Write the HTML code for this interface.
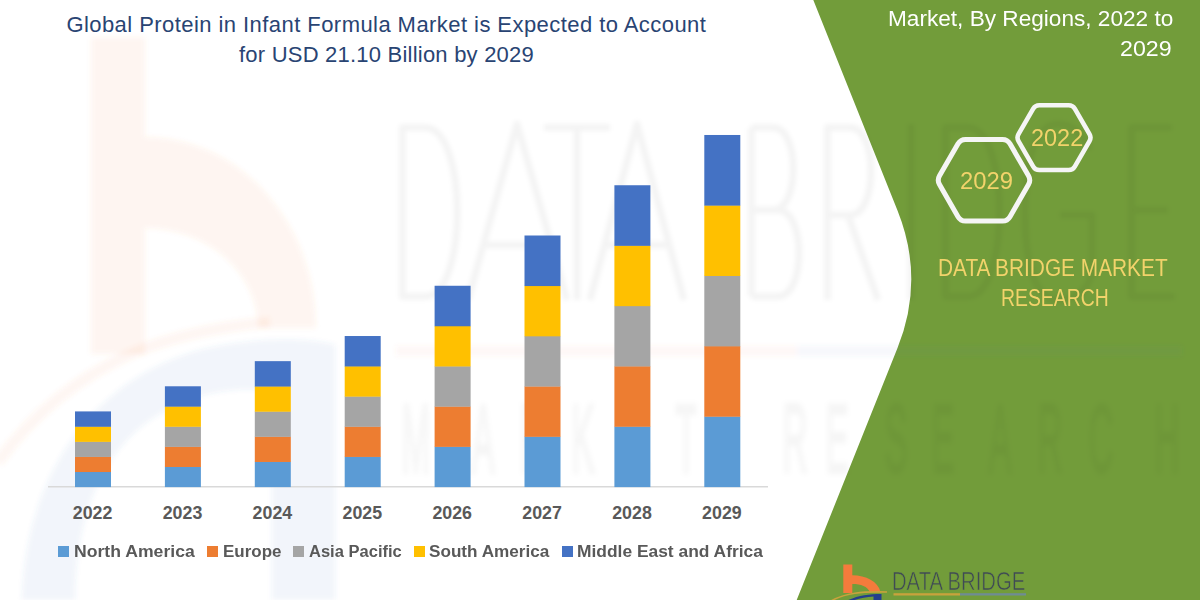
<!DOCTYPE html>
<html><head><meta charset="utf-8">
<style>
html,body{margin:0;padding:0;}
body{width:1200px;height:600px;position:relative;overflow:hidden;background:#fff;font-family:"Liberation Sans",sans-serif;}
svg{position:absolute;left:0;top:0;}
.t{position:absolute;white-space:nowrap;transform-origin:0 0;}
.ti{position:absolute;white-space:nowrap;color:#294473;font-size:22px;line-height:22px;}
.yr{position:absolute;top:504.5px;font-weight:bold;color:#595959;font-size:17.8px;line-height:17.8px;width:80px;text-align:center;}
.sq{position:absolute;top:546px;width:11px;height:11px;}
.lg{position:absolute;top:542.64px;font-weight:bold;color:#595959;font-size:17.4px;line-height:17.4px;white-space:nowrap;transform-origin:0 0;}
.rt{position:absolute;color:#fff;font-size:22.5px;line-height:22.5px;white-space:nowrap;transform-origin:0 0;}
.yl{position:absolute;color:#F2D36B;font-size:23px;line-height:23px;white-space:nowrap;transform-origin:0 0;}
#logo{position:absolute;left:891.5px;top:568.75px;color:#3F4A55;font-size:25px;line-height:25px;transform:scaleX(0.81);-webkit-text-stroke:0.6px #729C3A;transform-origin:0 0;white-space:nowrap;}
</style></head><body>
<svg width="1200" height="600" viewBox="0 0 1200 600">
<path d="M813.3,0 L897.6,210.75 Q925,279.25 897.6,347.75 L796.7,600 L1200,600 L1200,0 Z" fill="#729C3A"/>

<defs><filter id="bl" x="-10%" y="-10%" width="120%" height="120%"><feGaussianBlur stdDeviation="2.5"/></filter><filter id="bl2" x="-10%" y="-10%" width="120%" height="120%"><feGaussianBlur stdDeviation="2"/></filter></defs>
<g filter="url(#bl)">
<path d="M91,37.5 H145 V354 H91 Z M145,137 A171,191 0 0 1 316,328 L258,328 A113,100 0 0 0 145,228 Z" fill="#F47B3C" fill-opacity="0.075"/>
<path d="M-2,462 C30,418 75,378 135,352 C175,336 225,326 270,322" fill="none" stroke="#F47B3C" stroke-opacity="0.065" stroke-width="11"/>
<path d="M22,600 C25,480 90,380 200,350 C260,336 310,338 335,345 L335,600 L272,600 L272,392 C240,385 190,392 150,420 C100,455 75,520 75,600 Z" fill="#4472C4" fill-opacity="0.07"/>
</g><g fill="none" stroke="#000" stroke-opacity="0.045" stroke-width="7" stroke-linejoin="round" filter="url(#bl2)">
<path d="M402.5,127.5 V296.5 H425 C468,296.5 468,127.5 425,127.5 Z"/>
<path d="M468,300 L517,124 L567,300 M484,245 L551,245"/>
<path d="M544,127.5 H610 M577,127.5 V300"/>
<path d="M590,300 L637,124 L684,300 M605,245 L669,245"/>
<path d="M751.5,127.5 V296.5 M751.5,127.5 H773 C800,127.5 800,210 773,210 H751.5 M751.5,210 H778 C806,210 806,296.5 778,296.5 H751.5"/>
<path d="M827.5,300 V127.5 H850 C878,127.5 878,215 850,215 H827.5 M848,215 L878,300"/>
<path d="M911,124 V300"/>
<path d="M945.5,127.5 V296.5 H968 C1010,296.5 1010,127.5 968,127.5 Z"/>
<path d="M1090,150 C1080,130 1070,124 1058,124 C1035,124 1025,160 1025,212 C1025,264 1035,300 1058,300 C1075,300 1090,290 1092,270 V215 H1060"/>
<path d="M1172,127.5 H1131.5 V296.5 H1175 M1131.5,210 H1168"/>
</g>
<g filter="url(#bl)"><rect x="396" y="346" width="401" height="10" fill="#F47B3C" fill-opacity="0.05"/>
<rect x="797" y="346" width="385" height="10" fill="#4472C4" fill-opacity="0.05"/>
<text transform="scale(0.36,1)" y="472" font-family="Liberation Sans" font-size="96" fill="#000" fill-opacity="0.024" stroke="#000" stroke-opacity="0.024" stroke-width="6" x="1115.6 1309.7 1443.1 1587.4 1737.4 1876.2 2173.7 2293.0 2456.9 2587.4 2745.8 2882.0 3023.7 3207.0">MARKETRESEARCH</text>
</g>
<rect x="48" y="486" width="720" height="1.5" fill="#D9D9D9"/>
<rect x="75.0" y="471.72" width="36" height="15.38" fill="#5B9BD5"/>
<rect x="75.0" y="456.64" width="36" height="15.38" fill="#ED7D31"/>
<rect x="75.0" y="441.57" width="36" height="15.38" fill="#A5A5A5"/>
<rect x="75.0" y="426.49" width="36" height="15.38" fill="#FFC000"/>
<rect x="75.0" y="411.41" width="36" height="15.38" fill="#4472C4"/>
<rect x="164.9" y="466.70" width="36" height="20.40" fill="#5B9BD5"/>
<rect x="164.9" y="446.59" width="36" height="20.40" fill="#ED7D31"/>
<rect x="164.9" y="426.49" width="36" height="20.40" fill="#A5A5A5"/>
<rect x="164.9" y="406.38" width="36" height="20.40" fill="#FFC000"/>
<rect x="164.9" y="386.28" width="36" height="20.40" fill="#4472C4"/>
<rect x="254.8" y="461.67" width="36" height="25.43" fill="#5B9BD5"/>
<rect x="254.8" y="436.54" width="36" height="25.43" fill="#ED7D31"/>
<rect x="254.8" y="411.41" width="36" height="25.43" fill="#A5A5A5"/>
<rect x="254.8" y="386.28" width="36" height="25.43" fill="#FFC000"/>
<rect x="254.8" y="361.15" width="36" height="25.43" fill="#4472C4"/>
<rect x="344.70000000000005" y="456.64" width="36" height="30.46" fill="#5B9BD5"/>
<rect x="344.70000000000005" y="426.49" width="36" height="30.46" fill="#ED7D31"/>
<rect x="344.70000000000005" y="396.33" width="36" height="30.46" fill="#A5A5A5"/>
<rect x="344.70000000000005" y="366.18" width="36" height="30.46" fill="#FFC000"/>
<rect x="344.70000000000005" y="336.02" width="36" height="30.46" fill="#4472C4"/>
<rect x="434.6" y="446.59" width="36" height="40.51" fill="#5B9BD5"/>
<rect x="434.6" y="406.38" width="36" height="40.51" fill="#ED7D31"/>
<rect x="434.6" y="366.18" width="36" height="40.51" fill="#A5A5A5"/>
<rect x="434.6" y="325.97" width="36" height="40.51" fill="#FFC000"/>
<rect x="434.6" y="285.76" width="36" height="40.51" fill="#4472C4"/>
<rect x="524.5" y="436.54" width="36" height="50.56" fill="#5B9BD5"/>
<rect x="524.5" y="386.28" width="36" height="50.56" fill="#ED7D31"/>
<rect x="524.5" y="336.02" width="36" height="50.56" fill="#A5A5A5"/>
<rect x="524.5" y="285.76" width="36" height="50.56" fill="#FFC000"/>
<rect x="524.5" y="235.50" width="36" height="50.56" fill="#4472C4"/>
<rect x="614.4000000000001" y="426.49" width="36" height="60.61" fill="#5B9BD5"/>
<rect x="614.4000000000001" y="366.18" width="36" height="60.61" fill="#ED7D31"/>
<rect x="614.4000000000001" y="305.86" width="36" height="60.61" fill="#A5A5A5"/>
<rect x="614.4000000000001" y="245.55" width="36" height="60.61" fill="#FFC000"/>
<rect x="614.4000000000001" y="185.24" width="36" height="60.61" fill="#4472C4"/>
<rect x="704.3000000000001" y="416.44" width="36" height="70.66" fill="#5B9BD5"/>
<rect x="704.3000000000001" y="346.07" width="36" height="70.66" fill="#ED7D31"/>
<rect x="704.3000000000001" y="275.71" width="36" height="70.66" fill="#A5A5A5"/>
<rect x="704.3000000000001" y="205.34" width="36" height="70.66" fill="#FFC000"/>
<rect x="704.3000000000001" y="134.98" width="36" height="70.66" fill="#4472C4"/>
<path d="M958.00,143.73 Q960.50,139.40 965.50,139.40 L1002.50,139.40 Q1007.50,139.40 1010.00,143.73 L1028.50,175.87 Q1031.00,180.20 1028.50,184.53 L1010.00,216.67 Q1007.50,221.00 1002.50,221.00 L965.50,221.00 Q960.50,221.00 958.00,216.67 L939.50,184.53 Q937.00,180.20 939.50,175.87 Z" fill="none" stroke="#F5F5F5" stroke-width="5"/>
<path d="M1033.25,108.66 Q1035.25,105.20 1039.25,105.20 L1068.75,105.20 Q1072.75,105.20 1074.75,108.66 L1089.50,134.14 Q1091.50,137.60 1089.50,141.06 L1074.75,166.54 Q1072.75,170.00 1068.75,170.00 L1039.25,170.00 Q1035.25,170.00 1033.25,166.54 L1018.50,141.06 Q1016.50,137.60 1018.50,134.14 Z" fill="none" stroke="#F5F5F5" stroke-width="4.6"/>
<path d="M843.3,564.4 H852.3 V575.2 C866,575.5 878,581 880.6,592.2 L870,592.2 C867.5,586.5 861,584 852.3,584 V593 H843.3 Z" fill="#F47B3C"/>
<path d="M831,601 C845,593 862,591.2 887,592" fill="none" stroke="#C9A23C" stroke-width="1.6"/>
<path d="M846,601 C858,595.5 868,594 881.5,594 L881.5,601 L873.5,601 L873.5,596.5 C866,597 858,598.5 852,601 Z" fill="#243F8C"/>
<rect x="893.5" y="593.2" width="66.5" height="2.3" fill="#C9A23C"/>
<rect x="960" y="593.2" width="66" height="2.3" fill="#6F8C93"/>

</svg>
<div class="ti" style="left:66.4px;top:13.8px;letter-spacing:0.44px">Global Protein in Infant Formula Market is Expected to Account</div>
<div class="ti" style="left:239px;top:43.5px;letter-spacing:0.22px">for USD 21.10 Billion by 2029</div>
<div class="yr" style="left:52.60px">2022</div><div class="yr" style="left:142.50px">2023</div><div class="yr" style="left:232.40px">2024</div><div class="yr" style="left:322.30px">2025</div><div class="yr" style="left:412.20px">2026</div><div class="yr" style="left:502.10px">2027</div><div class="yr" style="left:592.00px">2028</div><div class="yr" style="left:681.90px">2029</div>
<div class="sq" style="left:58px;background:#5B9BD5"></div><div class="lg" style="left:74.082px;transform:scaleX(1.0131532172058302)">North America</div><div class="sq" style="left:207.2px;background:#ED7D31"></div><div class="lg" style="left:223.282px;transform:scaleX(0.9756349370225069)">Europe</div><div class="sq" style="left:293.3px;background:#A5A5A5"></div><div class="lg" style="left:309.478px;transform:scaleX(0.9500880190535363)">Asia Pacific</div><div class="sq" style="left:413.75px;background:#FFC000"></div><div class="lg" style="left:428.978px;transform:scaleX(0.9852216748768474)">South America</div><div class="sq" style="left:561.75px;background:#4472C4"></div><div class="lg" style="left:577.282px;transform:scaleX(1.0000649392817718)">Middle East and Africa</div>
<div class="rt" style="left:887.5px;top:8.2px;transform:scaleX(1.005)">Market, By Regions, 2022 to</div>
<div class="rt" style="left:1120.2px;top:38.4px;transform:scaleX(1.03)">2029</div>
<div class="yl" style="left:960.3px;top:169.6px;transform:scaleX(1.035)">2029</div>
<div class="yl" style="left:1030.5px;top:127px;transform:scaleX(1.02)">2022</div>
<div class="yl" style="left:937.7px;top:257.3px;transform:scaleX(0.906)">DATA BRIDGE MARKET</div>
<div class="yl" style="left:1001.2px;top:287.2px;transform:scaleX(0.843)">RESEARCH</div>
<div id="logo">DATA BRIDGE</div>
</body></html>
